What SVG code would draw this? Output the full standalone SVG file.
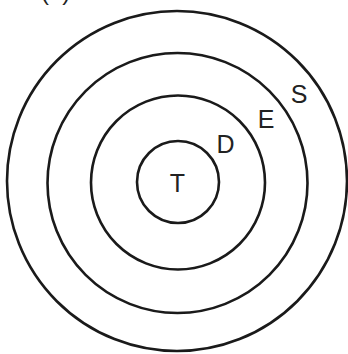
<svg xmlns="http://www.w3.org/2000/svg" width="348" height="354" viewBox="0 0 348 354">
<style>
.ring{fill:none;stroke:#1a1a1a;stroke-width:2.6}
.lbl{font-family:"Liberation Sans",Arial,sans-serif;font-size:25px;fill:#222;text-anchor:middle}
</style>
<rect width="348" height="354" fill="#fff"/>
<text x="41" y="0" style="font-family:'Liberation Sans',Arial,sans-serif;font-size:24px;fill:#222">(a)</text>
<g id="S"><circle class="ring" cx="177" cy="181" r="170"/><text class="lbl" x="299" y="102.5">S</text></g>
<g id="E"><circle class="ring" cx="177.5" cy="183" r="130"/><text class="lbl" x="266" y="127.5">E</text></g>
<g id="D"><circle class="ring" cx="178" cy="182.5" r="87"/><text class="lbl" x="225.5" y="153">D</text></g>
<g id="T"><circle class="ring" cx="178" cy="182" r="41"/><text class="lbl" x="177.5" y="192">T</text></g>
<g id="connectors"></g>
</svg>
